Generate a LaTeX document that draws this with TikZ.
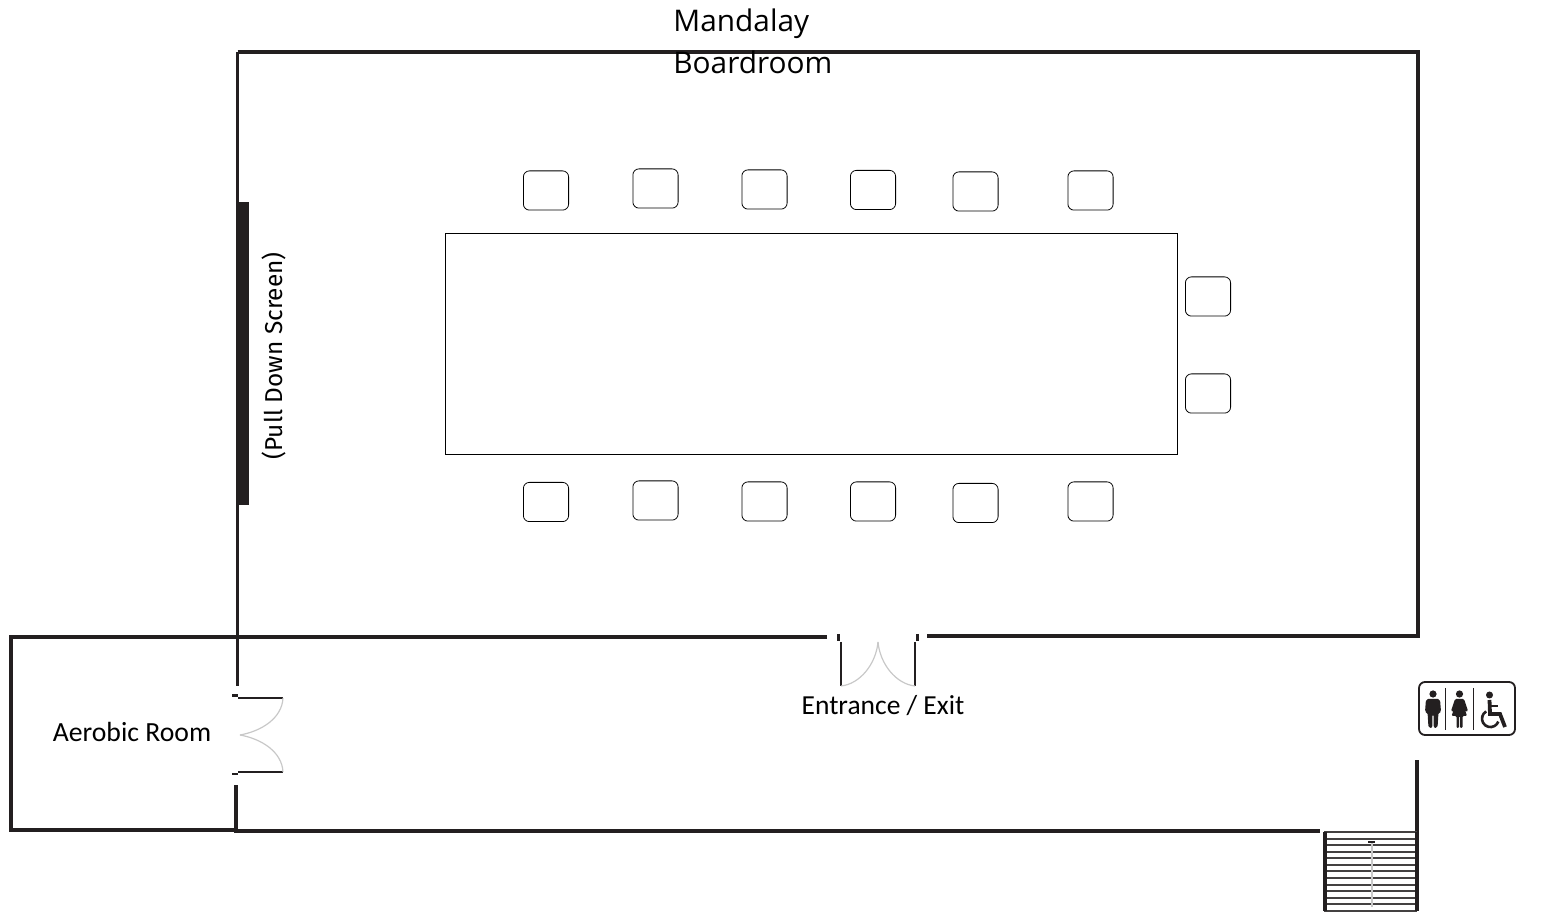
\documentclass[tikz,border=0pt]{standalone}
\usepackage{fontspec}
\setmainfont{Carlito}
\newfontfamily\titlefont{Open Sans}
\newfontfamily\screenfont{Fira Sans}
\definecolor{wall}{HTML}{231F20}
\definecolor{swing}{HTML}{C8C8C8}
\tikzset{
    wallline/.style = {draw=wall, line width=1.65pt},
    doorline/.style = {draw=wall, line width=1.4pt},
    swingline/.style = {draw=swing, line width=0.6pt},
    chair/.style = {draw=black, line width=0.4pt, rounded corners=3pt, minimum width=22.6pt, minimum height=19.6pt, inner sep=0pt},
    stairline/.style = {draw=wall!85!white, line width=1pt},
}
\begin{document}
\begin{tikzpicture}[x=0.5pt,y=-0.5pt]
    \useasboundingbox (0,0) rectangle (1563,913);
    % walls
    \draw [wallline] (237.5,52) -- (1418,52) -- (1418,636) -- (927,636);
    \draw [wallline] (827,637) -- (11,637) -- (11,830) -- (236,830);
    \draw [wallline] (237.5,52) -- (237.5,686);
    \draw [wallline] (236,785) -- (236,831) -- (1320,831);
    \draw [wallline] (1417,760) -- (1417,835);
    \fill [wall] (237,202) rectangle (249,505);
    % table and chairs
    \node [draw=black, line width=0.4pt, minimum width=366pt, minimum height=110.5pt, inner sep=0pt] (table) at (811,343.5) {};
    \foreach \name/\px/\py in {a/546/190.5, b/655.5/188.5, c/764.5/189.5, d/873/190, e/975.5/191.5, f/1090.5/190.5,
                               g/546/502, h/655.5/500.5, i/764.5/501.5, j/873/501.5, k/975.5/503, l/1090.5/501.5,
                               m/1208/296.5, n/1208/393.5}
        \node [chair] (chair\name) at (\px,\py) {};
    % doors
    \draw [doorline] (232,695.5) -- (238,695.5);
    \draw [doorline] (238,698) -- (283,698);
    \draw [doorline] (232,774) -- (238,774);
    \draw [doorline] (238,772) -- (283,772);
    \draw [swingline] (283,698) .. controls (282,718) and (262,731) .. (240,735);
    \draw [swingline] (283,772) .. controls (282,752) and (262,739) .. (240,735);
    \draw [doorline] (838.5,634) -- (838.5,641);
    \draw [doorline] (841,642) -- (841,686);
    \draw [doorline] (917.5,634) -- (917.5,641);
    \draw [doorline] (915,642) -- (915,686);
    \draw [swingline] (841,686) .. controls (860,684) and (876,664) .. (878,642);
    \draw [swingline] (915,686) .. controls (896,684) and (880,664) .. (878,642);
    % stairs
    \foreach \k in {0,...,12}
        \draw [stairline] (1324,832+\k*6.58) -- (1417,832+\k*6.58);
    \draw [wall, line width=1.8pt] (1325,832) -- (1325,911);
    \draw [wall, line width=1.8pt] (1417,832) -- (1417,911);
    \draw [swing, line width=1.2pt] (1372,842) -- (1372,907);
    \draw [wall, line width=1pt] (1368,842) -- (1375,842);
    % toilets sign
    \draw [wall, line width=0.9pt, rounded corners=3pt] (1419,682) rectangle (1515,735);
    \draw [wall, line width=0.7pt] (1445.7,688) -- (1445.7,730);
    \draw [wall, line width=0.7pt] (1473.7,688) -- (1473.7,730);
    \fill [wall] (1433,694) circle (3.6);
    \fill [wall, rounded corners=1pt] (1426,699) -- (1440,699) -- (1441,712) -- (1438.5,712) -- (1437.5,728) -- (1433.7,728) -- (1433.5,714) -- (1432.5,714) -- (1432.3,728) -- (1428.5,728) -- (1427.5,712) -- (1425,712) -- cycle;
    \fill [wall] (1459.5,694) circle (3.6);
    \fill [wall, rounded corners=0.6pt] (1455,699) -- (1464,699) -- (1468,711) -- (1466,712) -- (1463.5,705) -- (1467,716) -- (1462.5,716) -- (1462.5,728) -- (1460,728) -- (1460,716) -- (1459,716) -- (1459,728) -- (1456.5,728) -- (1456.5,716) -- (1451.5,716) -- (1455.5,705) -- (1453,712) -- (1451,711) -- cycle;
    \fill [wall] (1489.5,695) circle (3.5);
    \draw [wall, line width=1.3pt] (1486.2,711.4) arc [start angle=240, end angle=20, radius=8.4];
    \draw [wall, line width=1.9pt] (1489.5,700) -- (1490,714) -- (1500,714) -- (1505,727);
    \draw [wall, line width=1.2pt] (1490,706) -- (1498,706);
    % labels
    \node [font=\titlefont\fontsize{14.9}{21}\selectfont, align=left, anchor=north west, inner sep=0pt] (title) at (673,8) {Mandalay\\Boardroom};
    \node [font=\fontsize{13.85}{16}\selectfont, inner sep=0pt] (aerobic) at (132,732) {Aerobic Room};
    \node [font=\fontsize{13.75}{16}\selectfont, inner sep=0pt] (entrance) at (883,706) {Entrance / Exit};
    \node [font=\screenfont\fontsize{12.2}{15}\selectfont, rotate=90, inner sep=0pt] (screen) at (274,356) {(Pull Down Screen)};
\end{tikzpicture}
\end{document}
